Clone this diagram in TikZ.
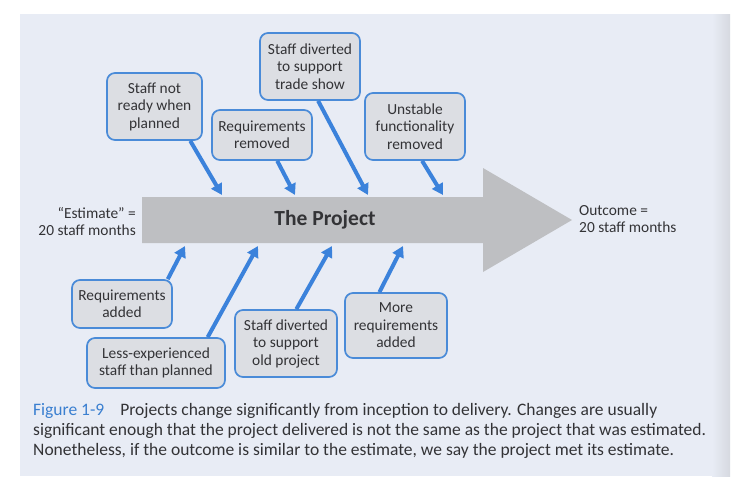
\documentclass[tikz,border=0pt]{standalone}
\usepackage{fontspec}
\setmainfont{Carlito}
\usetikzlibrary{arrows.meta,calc}
\definecolor{pagebg}{HTML}{E8ECF5}
\definecolor{edgegray}{HTML}{D6D9E0}
\definecolor{boxblue}{HTML}{4A8BD8}
\definecolor{boxgray}{HTML}{DCDEE3}
\definecolor{arrowblue}{HTML}{3B82DB}
\definecolor{arrowgray}{HTML}{BEBFC2}
\definecolor{textdark}{HTML}{333336}
\definecolor{capblue}{HTML}{3A7FD0}
\tikzset{
  cbox/.style={draw=boxblue, line width=1.7pt, fill=boxgray, rounded corners=8pt,
    align=center, inner sep=1pt, text=textdark, font=\fontsize{15.4}{17.5}\selectfont},
  barrow/.style={draw=arrowblue, line width=4pt, -{Triangle[width=12pt,length=11pt]}},
  lbl/.style={text=textdark, font=\fontsize{15.4}{17}\selectfont, inner sep=0pt},
  captxt/.style={text=textdark, font=\fontsize{17.5}{20}\selectfont, inner sep=0pt, anchor=base west}
}
\begin{document}
\begin{tikzpicture}[x=1pt,y=-1pt]
\useasboundingbox (0,0) rectangle (755,493);
\fill[white] (0,0) rectangle (755,493);
\fill[pagebg] (20,14) rectangle (730,476);
\shade[left color=pagebg, right color=edgegray] (712,14) rectangle (730,476);

% big arrow
\fill[arrowgray] (142,197) -- (483,197) -- (483,168) -- (572,220) -- (483,272) -- (483,243) -- (142,243) -- cycle;
\node[text=textdark, font=\fontsize{21.5}{24}\selectfont\bfseries] (proj) at (325,220) {The Project};

% side labels
\node[lbl, anchor=east, align=right] (est) at (136,221) {``Estimate'' =\\20 staff months};
\node[lbl, anchor=west, align=left] (out) at (579,219) {Outcome =\\20 staff months};

% top boxes
\node[cbox, minimum width=95pt, minimum height=67pt] (b1) at (154.5,106.5) {Staff not\\ready when\\planned};
\node[cbox, minimum width=100pt, minimum height=50pt] (b2) at (262,135) {Requirements\\removed};
\node[cbox, minimum width=100pt, minimum height=67pt] (b3) at (310,66.5) {Staff diverted\\to support\\trade show};
\node[cbox, minimum width=100pt, minimum height=67pt] (b4) at (415,126.5) {Unstable\\functionality\\removed};

% bottom boxes
\node[cbox, minimum width=100pt, minimum height=48pt] (ra) at (122,304) {Requirements\\added};
\node[cbox, minimum width=138pt, minimum height=50pt] (le) at (156,363) {Less-experienced\\staff than planned};
\node[cbox, minimum width=102pt, minimum height=67pt] (sd) at (286,343.5) {Staff diverted\\to support\\old project};
\node[cbox, minimum width=102pt, minimum height=65pt] (mr) at (396,325.5) {More\\requirements\\added};

% arrow end points on the big arrow
\coordinate (t1) at (222,195);
\coordinate (t2) at (295,195);
\coordinate (t3) at (368,195);
\coordinate (t4) at (443,195);
\coordinate (u1) at (185,246);
\coordinate (u2) at (258,246);
\coordinate (u3) at (332,246);
\coordinate (u4) at (403,246);

\draw[barrow] ($(b1.south west)!0.87!(b1.south east)$) -- (t1);
\draw[barrow] ($(b2.south west)!0.65!(b2.south east)$) -- (t2);
\draw[barrow] ($(b3.south west)!0.58!(b3.south east)$) -- (t3);
\draw[barrow] ($(b4.south west)!0.57!(b4.south east)$) -- (t4);
\draw[barrow] ($(ra.north west)!0.95!(ra.north east)$) -- (u1);
\draw[barrow] ($(le.north west)!0.87!(le.north east)$) -- (u2);
\draw[barrow] ($(sd.north west)!0.60!(sd.north east)$) -- (u3);
\draw[barrow] ($(mr.north west)!0.34!(mr.north east)$) -- (u4);

% caption
\node[captxt] (cap1) at (33,415) {\textcolor{capblue}{Figure 1-9}\hspace{16pt}Projects change significantly from inception to delivery. Changes are usually};
\node[captxt] (cap2) at (33,435) {significant enough that the project delivered is not the same as the project that was estimated.};
\node[captxt] (cap3) at (33,455) {Nonetheless, if the outcome is similar to the estimate, we say the project met its estimate.};
\end{tikzpicture}
\end{document}
